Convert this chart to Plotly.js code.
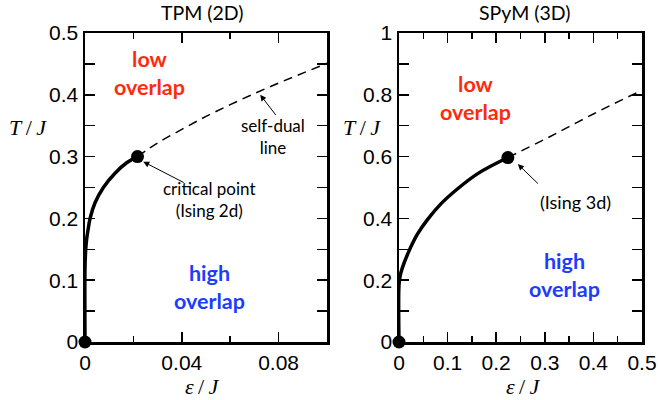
<!DOCTYPE html>
<html>
<head>
<meta charset="utf-8">
<script src="https://cdn.plot.ly/plotly-3.0.1.min.js"></script>
<style>html,body{margin:0;padding:0;background:#fff;}#chart{width:658px;height:400px;}</style>
</head>
<body>
<div id="chart"></div>
<script>
// ---- Data ----
// TPM (2D): solid transition line up to the critical point
const tpmLineEps = [0, 0, 0.0003, 0.0007, 0.0012, 0.0021, 0.0041, 0.0076, 0.0124, 0.0172, 0.0217];
const tpmLineT   = [0, 0.12, 0.15, 0.167, 0.18, 0.2, 0.225, 0.25, 0.273, 0.29, 0.3];
// TPM (2D): self-dual line (dashed)
const tpmDualEps = [0.0217, 0.03, 0.04, 0.05, 0.06, 0.07, 0.08, 0.09, 0.1];
const tpmDualT   = [0.3, 0.322, 0.344, 0.365, 0.384, 0.402, 0.419, 0.435, 0.451];
// TPM (2D): marked points (origin, critical point)
const tpmPtsEps = [0, 0.0217];
const tpmPtsT   = [0, 0.3];

// SPyM (3D): solid transition line
const spymLineEps = [0, 0, 0.0025, 0.0069, 0.0207, 0.0379, 0.0586, 0.0862, 0.1207, 0.162, 0.224];
const spymLineT   = [0, 0.185, 0.215, 0.24, 0.295, 0.349, 0.396, 0.447, 0.496, 0.545, 0.597];
// SPyM (3D): dashed continuation
const spymDualEps = [0.224, 0.3, 0.35, 0.4, 0.45, 0.5];
const spymDualT   = [0.597, 0.656, 0.697, 0.738, 0.777, 0.815];
const spymPtsEps = [0, 0.224];
const spymPtsT   = [0, 0.597];

// Tick labels
const tpmXTicks = [0, 0.04, 0.08];
const tpmXLabels = ["0", "0.04", "0.08"];
const tpmYTicks = [0, 0.05, 0.1, 0.15, 0.2, 0.25, 0.3, 0.35, 0.4, 0.45, 0.5];
const tpmYLabels = ["0", "", "0.1", "", "0.2", "", "0.3", "", "0.4", "", "0.5"];
const spymXTicks = [0, 0.1, 0.2, 0.3, 0.4, 0.5];
const spymXLabels = ["0", "0.1", "0.2", "0.3", "0.4", "0.5"];
const spymYTicks = [0, 0.1, 0.2, 0.3, 0.4, 0.5, 0.6, 0.7, 0.8, 0.9, 1];
const spymYLabels = ["0", "", "0.2", "", "0.4", "", "0.6", "", "0.8", "", "1"];

// ---- Traces ----
const solid = {color: '#000', width: 3.5};
const dashed = {color: '#000', width: 1.5, dash: '9px,6px'};
const mk = {color: '#000', size: 13};
const traces = [
  {x: tpmLineEps, y: tpmLineT, mode: 'lines', line: solid, xaxis: 'x', yaxis: 'y', cliponaxis: false},
  {x: tpmDualEps, y: tpmDualT, mode: 'lines', line: dashed, xaxis: 'x', yaxis: 'y'},
  {x: tpmPtsEps, y: tpmPtsT, mode: 'markers', marker: mk, xaxis: 'x', yaxis: 'y', cliponaxis: false},
  {x: spymLineEps, y: spymLineT, mode: 'lines', line: solid, xaxis: 'x2', yaxis: 'y2', cliponaxis: false},
  {x: spymDualEps, y: spymDualT, mode: 'lines', line: dashed, xaxis: 'x2', yaxis: 'y2'},
  {x: spymPtsEps, y: spymPtsT, mode: 'markers', marker: mk, xaxis: 'x2', yaxis: 'y2', cliponaxis: false}
];
traces.forEach(t => { if (t.mode === 'lines') t.line = Object.assign({}, t.line, {shape: 'spline'}); t.showlegend = false; t.hoverinfo = 'skip'; });

const tickFont = {family: '"Liberation Sans", Arial, sans-serif', size: 21, color: '#000'};
function xax(domain, range, tv, tt, minorDt) {
  return {domain, range, tickmode: 'array', tickvals: tv, ticktext: tt, ticks: 'inside', ticklen: 10,
    tickwidth: 1.5, tickcolor: '#000', showline: true, linewidth: 2.5, linecolor: '#000', mirror: 'allticks',
    showgrid: false, zeroline: false, tickfont: tickFont, fixedrange: true,
    minor: {dtick: minorDt, ticks: 'inside', ticklen: 6, tickwidth: 1.5, tickcolor: '#000', showgrid: false}};
}
function yax(domain, range, tv, tt, anchor) {
  return {domain, range, anchor, tickmode: 'array', tickvals: tv, ticktext: tt, ticks: 'inside', ticklen: 10,
    tickwidth: 1.5, tickcolor: '#000', showline: true, linewidth: 2.5, linecolor: '#000', mirror: 'allticks',
    showgrid: false, zeroline: false, tickfont: tickFont, fixedrange: true};
}

const W = 658, H = 400;
const yDom = [(H - 342) / H, (H - 33) / H];
const txtFont = (size, color, bold) => ({family: 'Lato, "Noto Sans", sans-serif', size, color, weight: bold ? 'bold' : 'normal'});
const mathFont = {family: '"Liberation Serif", "DejaVu Serif", serif', size: 22, color: '#000'};
const red = '#ff2a0d', blue = '#1a3dff';

const annotations = [
  // titles
  {xref: 'paper', yref: 'paper', x: 202 / W, y: 1 - 13 / H, text: 'TPM (2D)', showarrow: false, font: txtFont(19.5, '#000'), xanchor: 'center', yanchor: 'middle'},
  {xref: 'paper', yref: 'paper', x: 524 / W, y: 1 - 13 / H, text: 'SPyM (3D)', showarrow: false, font: txtFont(19.5, '#000'), xanchor: 'center', yanchor: 'middle'},
  // axis titles
  {xref: 'paper', yref: 'paper', x: 28 / W, y: 1 - 127 / H, text: '<i>T</i>\u2009/\u2009<i>J</i>', showarrow: false, font: mathFont, xanchor: 'center', yanchor: 'middle'},
  {xref: 'paper', yref: 'paper', x: 362 / W, y: 1 - 127 / H, text: '<i>T</i>\u2009/\u2009<i>J</i>', showarrow: false, font: mathFont, xanchor: 'center', yanchor: 'middle'},
  {xref: 'paper', yref: 'paper', x: 202 / W, y: 1 - 386 / H, text: '<i>ε</i>\u2009/\u2009<i>J</i>', showarrow: false, font: mathFont, xanchor: 'center', yanchor: 'middle'},
  {xref: 'paper', yref: 'paper', x: 523 / W, y: 1 - 386 / H, text: '<i>ε</i>\u2009/\u2009<i>J</i>', showarrow: false, font: mathFont, xanchor: 'center', yanchor: 'middle'},
  // left panel region labels
  {xref: 'x', yref: 'y', x: 0.0265, y: 0.435, text: 'low<br>overlap', showarrow: false, font: txtFont(21.5, red, true)},
  {xref: 'x', yref: 'y', x: 0.0513, y: 0.089, text: 'high<br>overlap', showarrow: false, font: txtFont(21.5, blue, true)},
  {xref: 'x', yref: 'y', x: 0.0778, y: 0.332, text: 'self-dual<br>line', showarrow: false, font: txtFont(17, '#000')},
  {xref: 'x', yref: 'y', x: 0.0513, y: 0.230, text: 'critical point<br>(Ising 2d)', showarrow: false, font: txtFont(17, '#000')},
  // left arrows
  {xref: 'x', yref: 'y', axref: 'x', ayref: 'y', x: 0.0724, y: 0.400, ax: 0.0793, ay: 0.365, text: '', showarrow: true, arrowhead: 2, arrowsize: 1.2, arrowwidth: 1, arrowcolor: '#000'},
  {xref: 'x', yref: 'y', axref: 'x', ayref: 'y', x: 0.0241, y: 0.2917, ax: 0.0414, ay: 0.2568, text: '', showarrow: true, arrowhead: 2, arrowsize: 1.2, arrowwidth: 1, arrowcolor: '#000'},
  // right panel labels
  {xref: 'x2', yref: 'y2', x: 0.157, y: 0.789, text: 'low<br>overlap', showarrow: false, font: txtFont(21.5, red, true)},
  {xref: 'x2', yref: 'y2', x: 0.341, y: 0.216, text: 'high<br>overlap', showarrow: false, font: txtFont(21.5, blue, true)},
  {xref: 'x2', yref: 'y2', x: 0.363, y: 0.454, text: '(Ising 3d)', showarrow: false, font: txtFont(18, '#000')},
  {xref: 'x2', yref: 'y2', axref: 'x2', ayref: 'y2', x: 0.2445, y: 0.5757, ax: 0.289, ay: 0.508, text: '', showarrow: true, arrowhead: 2, arrowsize: 1.2, arrowwidth: 1, arrowcolor: '#000'}
];

const layout = {
  width: W, height: H,
  margin: {l: 0, r: 0, t: 0, b: 0},
  paper_bgcolor: '#fff', plot_bgcolor: '#fff',
  showlegend: false,
  xaxis: xax([85 / W, 327 / W], [0, 0.1], tpmXTicks, tpmXLabels, 0.02),
  yaxis: yax(yDom, [0, 0.5], tpmYTicks, tpmYLabels, 'x'),
  xaxis2: xax([399 / W, 642 / W], [0, 0.5], spymXTicks, spymXLabels, 0.05),
  yaxis2: yax(yDom, [0, 1], spymYTicks, spymYLabels, 'x2'),
  annotations
};
layout.xaxis.anchor = 'y';
layout.xaxis2.anchor = 'y2';

Plotly.newPlot('chart', traces, layout, {displayModeBar: false, staticPlot: true});
</script>
</body>
</html>
